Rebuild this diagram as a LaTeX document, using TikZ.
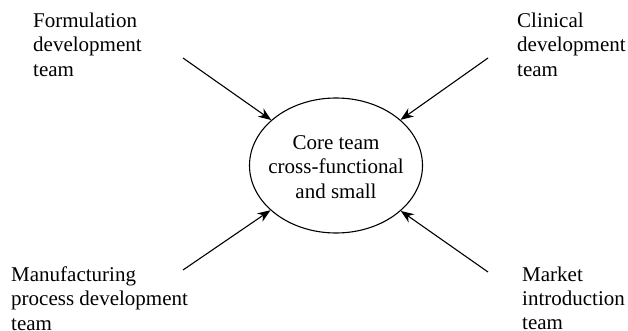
\documentclass[tikz,border=0pt]{standalone}
\usepackage{fontspec}
\setmainfont{Liberation Serif}
\usetikzlibrary{arrows.meta,shapes.geometric}
\begin{document}
\begin{tikzpicture}[x=1pt,y=-1pt,
  txt/.style={inner sep=0pt,font=\fontsize{21}{24.3}\selectfont},
  label/.style={txt,align=left,anchor=north west},
  core/.style={draw,ellipse,line width=1.1pt,minimum width=173pt,minimum height=135pt,inner sep=0pt},
  conn/.style={line width=1.1pt,-{Stealth[length=13pt,width=10pt]}}]
\useasboundingbox (0,0) rectangle (628,331);
\node[core] (c) at (336,165.5) {};
\node[txt,align=center] (ct) at (336,167) {Core team\\cross-functional\\and small};
\node[label] (f) at (33,12.8) {Formulation\\development\\team};
\node[label] (cl) at (517,12.8) {Clinical\\development\\team};
\node[label] (m) at (11,266.5) {Manufacturing\\process development\\team};
\node[label] (mk) at (522,266.5) {Market\\introduction\\team};
\coordinate (fs) at (183,58);
\coordinate (cs) at (488,58);
\coordinate (ms) at (183,270);
\coordinate (ks) at (488,272);
\draw[conn] (fs) -- (c);
\draw[conn] (cs) -- (c);
\draw[conn] (ms) -- (c);
\draw[conn] (ks) -- (c);
\end{tikzpicture}
\end{document}
